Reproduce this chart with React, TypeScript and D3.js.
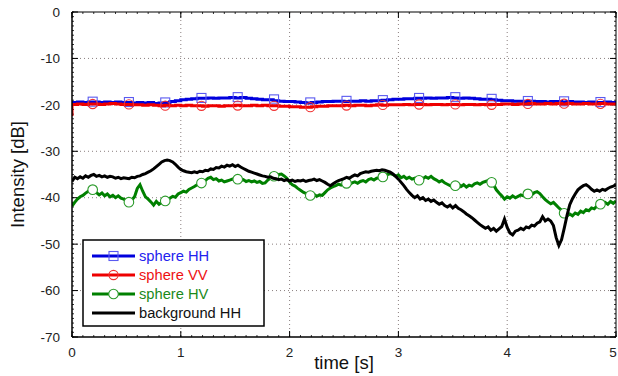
import React from "react";
import * as d3 from "d3";

const W = 618;
const H = 376;
const M = { left: 72, right: 2, top: 12, bottom: 39 };

const xTicks = [0, 1, 2, 3, 4, 5];
const yTicks = [0, -10, -20, -30, -40, -50, -60, -70];

const seriesNames = ["sphere HH", "sphere VV", "sphere HV", "background HH"];

// sampled every 0.05 s
const sphereHH = [
  -19.6, -19.5, -19.4, -19.5, -19.4, -19.4, -19.5, -19.4, -19.5, -19.4, -19.5,
  -19.5, -19.6, -19.5, -19.6, -19.5, -19.7, -19.6, -19.5, -19.3, -19.1,
  -18.9, -18.8, -18.7, -18.6, -18.6, -18.5, -18.6, -18.5, -18.5, -18.4,
  -18.5, -18.4, -18.6, -18.7, -18.8, -18.9, -18.9, -19.1, -19.2, -19.3,
  -19.3, -19.4, -19.5, -19.6, -19.5, -19.4, -19.3, -19.3, -19.2, -19.2,
  -19.3, -19.2, -19.2, -19.1, -19.2, -19.1, -19.1, -19.0, -18.9, -18.8,
  -18.8, -18.7, -18.7, -18.6, -18.6, -18.5, -18.6, -18.5, -18.5, -18.4,
  -18.5, -18.6, -18.5, -18.6, -18.7, -18.8, -18.8, -18.9, -19.0, -19.1,
  -19.1, -19.2, -19.2, -19.3, -19.2, -19.3, -19.3, -19.4, -19.3, -19.3,
  -19.4, -19.3, -19.4, -19.4, -19.5, -19.4, -19.5, -19.5, -19.4, -19.5,
];

const sphereVV = [
  -22.4, -19.9, -19.8, -19.9, -19.8, -19.8, -19.9, -19.8, -19.7, -19.8, -19.9,
  -19.9, -20.0, -20.0, -20.1, -20.0, -20.1, -20.2, -20.1, -20.2, -20.1,
  -20.2, -20.1, -20.2, -20.2, -20.3, -20.2, -20.2, -20.3, -20.2, -20.2,
  -20.1, -20.2, -20.2, -20.1, -20.2, -20.1, -20.2, -20.2, -20.3, -20.3,
  -20.4, -20.4, -20.5, -20.5, -20.4, -20.3, -20.3, -20.2, -20.2, -20.2,
  -20.1, -20.2, -20.1, -20.1, -20.2, -20.1, -20.0, -20.1, -20.0, -20.0,
  -20.0, -19.9, -20.0, -19.9, -19.9, -20.0, -19.9, -19.9, -20.0, -19.9,
  -19.9, -20.0, -19.9, -19.9, -20.0, -19.9, -20.0, -19.9, -19.9, -19.8,
  -19.8, -19.9, -19.8, -19.8, -19.7, -19.8, -19.8, -19.7, -19.8, -19.7,
  -19.8, -19.7, -19.8, -19.8, -19.7, -19.8, -19.8, -19.7, -19.8, -19.8,
];

// sampled every 0.025 s
const sphereHV = [
  -41.8, -41.0, -40.3, -39.8, -39.5, -39.0, -38.6, -38.2, -38.3, -38.9,
  -39.4, -39.0, -39.6, -39.2, -39.8, -39.5, -40.0, -39.6, -40.1, -40.3,
  -40.6, -41.0, -40.5, -39.8, -38.0, -37.2, -38.6, -39.8, -40.3, -40.9,
  -41.6, -40.8, -41.4, -41.0, -40.8, -40.4, -40.1, -39.7, -39.9, -39.2,
  -38.9, -38.6, -38.8, -38.2, -37.9, -37.6, -37.2, -36.9, -36.8, -36.3,
  -35.8, -35.6, -36.1, -35.9, -36.4, -36.2, -36.6, -36.4, -36.2, -36.0,
  -36.1, -36.0, -36.3, -36.1, -36.5, -36.3, -36.6, -36.4, -36.7, -36.5,
  -36.9, -36.8, -36.2, -35.7, -35.4, -35.3, -35.0, -34.9, -35.3, -35.8,
  -36.6, -37.2, -37.5, -38.0, -38.4, -38.8, -39.1, -39.4, -39.6, -39.3,
  -39.7, -39.4, -39.5, -38.9, -38.3, -37.9, -37.6, -37.4, -37.1, -37.3,
  -37.0, -36.9, -37.2, -36.8, -36.6, -36.9, -36.5, -36.3, -36.6, -36.1,
  -35.9, -36.2, -35.8, -35.7, -35.6, -35.3, -35.0, -34.8, -35.0, -35.4,
  -35.1, -35.7, -35.4, -35.9, -35.6, -36.0, -35.8, -36.3, -36.2, -35.9,
  -35.5, -35.8, -35.4, -35.9, -36.2, -36.6, -36.3, -36.8, -37.1, -37.4,
  -37.6, -37.4, -37.0, -37.6, -37.2, -37.7, -37.3, -37.5, -37.0, -36.8,
  -37.1, -36.7, -36.5, -36.3, -36.5, -37.2, -38.3, -39.0, -39.6, -40.3,
  -39.8, -40.1, -39.6, -40.0, -39.7, -39.4, -39.6, -39.3, -39.1, -39.4,
  -38.9, -38.7, -39.1, -39.8, -40.4, -40.9, -41.3, -41.0, -41.6, -42.2,
  -42.7, -43.4, -43.9, -43.5, -43.9, -43.3, -43.6, -42.9, -43.2, -42.6,
  -42.8, -42.2, -42.4, -41.8, -41.3, -41.6, -41.0, -41.4, -40.8, -41.2,
  -40.7,
];

const backgroundHH = [
  -36.5, -35.6, -35.9, -35.5, -35.8, -35.3, -35.6, -35.2, -35.0, -35.4,
  -35.2, -35.5, -35.3, -35.6, -35.4, -35.5, -35.8, -35.6, -35.9, -35.7,
  -35.8, -35.9, -35.6, -35.7, -35.4, -35.3, -35.0, -34.8, -34.5, -34.2,
  -33.8, -33.3, -32.8, -32.3, -32.0, -31.9, -32.0, -32.3, -32.8, -33.4,
  -33.9, -34.2, -34.4, -34.5, -34.6, -34.4, -34.6, -34.3, -34.4, -34.1,
  -34.2, -33.8, -33.9, -33.5, -33.6, -33.2, -33.4, -33.0, -33.2, -32.9,
  -33.3, -33.0, -33.4, -33.7, -34.0, -34.3, -34.5, -34.7, -34.9, -35.1,
  -35.3, -35.4, -35.6, -35.5, -35.8, -35.9, -36.1, -36.0, -36.3, -36.1,
  -36.4, -36.2, -36.5, -36.3, -36.4, -36.2, -36.5, -36.3, -36.2, -36.0,
  -36.3, -36.1, -36.4, -36.7, -37.1, -37.4, -37.0, -36.6, -36.3, -36.1,
  -35.9, -35.6, -35.8, -35.4, -35.1, -35.3, -34.8, -34.6, -34.4, -34.5,
  -34.3, -34.2, -34.1, -34.2, -34.0, -34.1, -34.3, -34.5, -34.9, -35.4,
  -36.0, -36.7, -37.4, -38.2, -38.9, -39.5, -40.0, -39.6, -40.3, -40.0,
  -40.6, -40.3, -40.8, -40.5, -41.0, -41.4, -41.1, -41.7, -42.0, -41.6,
  -42.2, -41.7, -42.3, -42.6, -43.0, -43.5, -43.9, -44.3, -44.8, -45.3,
  -45.8, -46.2, -46.6, -46.3, -47.0, -46.6, -47.2, -46.7, -46.2, -44.6,
  -46.4, -47.6, -48.0, -47.2, -47.0, -46.6, -46.9, -46.3, -46.5, -45.9,
  -46.1, -45.5, -45.2, -44.1, -45.0, -44.6, -45.0, -46.0, -48.6, -50.3,
  -49.0, -46.5, -43.8, -41.5, -40.2, -39.2, -38.3, -37.8, -37.4, -37.2,
  -37.6, -38.2, -38.6, -38.3, -38.6, -38.2, -38.4, -38.0, -37.7, -37.5,
  -37.2,
];

// marker times (s)
const markerTimes = [0.19, 0.523, 0.857, 1.19, 1.523, 1.857, 2.19, 2.523, 2.857, 3.19, 3.523, 3.857, 4.19, 4.523, 4.857];

const T_END = 5;

function toPoints(vals: number[]): [number, number][] {
  const n = vals.length;
  return vals.map((v, i) => [(i * T_END) / (n - 1), v]);
}

function interp(pts: [number, number][], t: number): number {
  for (let i = 0; i < pts.length - 1; i++) {
    if (t >= pts[i][0] && t <= pts[i + 1][0]) {
      const f = (t - pts[i][0]) / (pts[i + 1][0] - pts[i][0]);
      return pts[i][1] + f * (pts[i + 1][1] - pts[i][1]);
    }
  }
  return pts[pts.length - 1][1];
}

export default function App() {
  const x = d3.scaleLinear().domain([0, 5]).range([M.left, W - M.right]);
  const y = d3.scaleLinear().domain([-70, 0]).range([H - M.bottom, M.top]);
  const x0 = x(0), x1 = x(5), y0 = y(-70), y1 = y(0);

  const hh = toPoints(sphereHH);
  const vv = toPoints(sphereVV);
  const hv = toPoints(sphereHV);
  const bg = toPoints(backgroundHH);

  const lineStep = d3.line<[number, number]>().x((d) => x(d[0])).y((d) => y(d[1])).curve(d3.curveStepBefore);
  const lineLin = d3.line<[number, number]>().x((d) => x(d[0])).y((d) => y(d[1]));

  const minorX = d3.range(0, 5.0001, 0.1);
  const minorY = d3.range(-70, 0.0001, 1);

  const font = "'Liberation Sans', Arial, Helvetica, sans-serif";
  const blue = "#0000dd";
  const red = "#ee0000";
  const green = "#008000";

  const legendX = 83, legendY = 240, legendW = 181, legendH = 86;
  const rowY = [256, 275, 294, 313];
  const legendColors = [blue, red, green, "#000"];
  const textColors = ["#2222ee", "#ee1111", "#1a8a1a", "#111"];

  return (
    <svg width={W} height={H} style={{ position: "absolute", left: 0, top: 0, background: "#fff" }} fontFamily={font}>
      <defs>
        <clipPath id="plot">
          <rect x={x0} y={y1} width={x1 - x0} height={y0 - y1} />
        </clipPath>
      </defs>
      <rect x={0} y={0} width={W} height={H} fill="#fff" />
      {/* grid */}
      {xTicks.slice(1, -1).map((t) => (
        <line key={"gx" + t} x1={x(t)} x2={x(t)} y1={y1} y2={y0} stroke="#8a7f7f" strokeWidth={1} strokeDasharray="1,3" />
      ))}
      {yTicks.slice(1, -1).map((t) => (
        <line key={"gy" + t} x1={x0} x2={x1} y1={y(t)} y2={y(t)} stroke="#8a7f7f" strokeWidth={1} strokeDasharray="1,3" />
      ))}
      {/* minor ticks */}
      {minorX.map((t, i) => (
        <g key={"mx" + i}>
          <line x1={x(t)} x2={x(t)} y1={y0} y2={y0 - 2} stroke="#000" strokeWidth={0.8} />
          <line x1={x(t)} x2={x(t)} y1={y1} y2={y1 + 2} stroke="#000" strokeWidth={0.8} />
        </g>
      ))}
      {minorY.map((t, i) => (
        <g key={"my" + i}>
          <line x1={x0} x2={x0 + 2} y1={y(t)} y2={y(t)} stroke="#000" strokeWidth={0.8} />
          <line x1={x1} x2={x1 - 2} y1={y(t)} y2={y(t)} stroke="#000" strokeWidth={0.8} />
        </g>
      ))}
      {/* major ticks */}
      {xTicks.map((t) => (
        <g key={"tx" + t}>
          <line x1={x(t)} x2={x(t)} y1={y0} y2={y0 - 6} stroke="#000" strokeWidth={1} />
          <line x1={x(t)} x2={x(t)} y1={y1} y2={y1 + 6} stroke="#000" strokeWidth={1} />
          <text x={t === 5 ? x(t) - 3 : x(t)} y={y0 + 20} textAnchor="middle" fontSize={13.5} fill="#222">{t}</text>
        </g>
      ))}
      {yTicks.map((t) => (
        <g key={"ty" + t}>
          <line x1={x0} x2={x0 + 6} y1={y(t)} y2={y(t)} stroke="#000" strokeWidth={1} />
          <line x1={x1} x2={x1 - 6} y1={y(t)} y2={y(t)} stroke="#000" strokeWidth={1} />
          <text x={x0 - 12} y={y(t)} dy="0.35em" textAnchor="end" fontSize={13.5} fill="#222">{t}</text>
        </g>
      ))}
      {/* series */}
      <g clipPath="url(#plot)">
        <path d={lineStep(hh) || ""} fill="none" stroke={blue} strokeWidth={3} />
        {markerTimes.map((t, i) => (
          <rect key={"mh" + i} x={x(t) - 4.5} y={y(interp(hh, t)) - 5} width={9} height={9} fill="none" stroke="#5a5af0" strokeWidth={1.1} />
        ))}
        <path d={lineStep(vv) || ""} fill="none" stroke={red} strokeWidth={3} />
        {markerTimes.map((t, i) => (
          <circle key={"mv" + i} cx={x(t)} cy={y(interp(vv, t))} r={4.6} fill="none" stroke="#f03030" strokeWidth={1.1} />
        ))}
        <path d={lineLin(hv) || ""} fill="none" stroke={green} strokeWidth={3} strokeLinejoin="miter" />
        {markerTimes.map((t, i) => (
          <circle key={"mg" + i} cx={x(t)} cy={y(interp(hv, t))} r={4.8} fill="#fff" stroke="#2a9a2a" strokeWidth={1.1} />
        ))}
        <path d={lineLin(bg) || ""} fill="none" stroke="#000" strokeWidth={3} strokeLinejoin="miter" />
      </g>
      {/* frame */}
      <line x1={x0} x2={x1} y1={y1} y2={y1} stroke="#000" strokeWidth={1} />
      <line x1={x1} x2={x1} y1={y1} y2={y0} stroke="#000" strokeWidth={1} />
      <line x1={x0} x2={x1} y1={y0} y2={y0} stroke="#000" strokeWidth={1.5} />
      <line x1={x0} x2={x0} y1={y1} y2={y0} stroke="#000" strokeWidth={1.5} />
      {/* legend */}
      <rect x={legendX} y={legendY} width={legendW} height={legendH} fill="#fff" stroke="#000" strokeWidth={1.5} />
      {seriesNames.map((name, i) => (
        <g key={name}>
          <line x1={92} x2={135} y1={rowY[i]} y2={rowY[i]} stroke={legendColors[i]} strokeWidth={3} />
          {i === 0 && <rect x={109} y={rowY[i] - 4.5} width={9} height={9} fill="none" stroke="#5a5af0" strokeWidth={1.1} />}
          {i === 1 && <circle cx={113.5} cy={rowY[i]} r={4.6} fill="none" stroke="#f03030" strokeWidth={1.1} />}
          {i === 2 && <circle cx={113.5} cy={rowY[i]} r={4.8} fill="#fff" stroke="#2a9a2a" strokeWidth={1.1} />}
          <text x={139} y={rowY[i]} dy="0.36em" fontSize={14.7} fill={textColors[i]}>{name}</text>
        </g>
      ))}
      {/* axis titles */}
      <text x={344} y={369} textAnchor="middle" fontSize={18.5} fill="#111">time [s]</text>
      <text transform={`translate(24, ${(y0 + y1) / 2}) rotate(-90)`} textAnchor="middle" fontSize={18.5} fill="#111">Intensity [dB]</text>
    </svg>
  );
}
